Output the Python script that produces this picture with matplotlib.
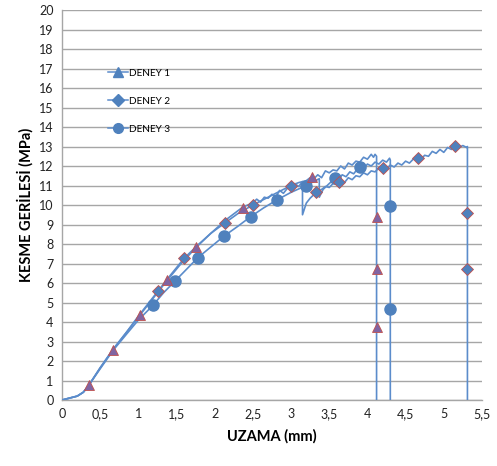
import matplotlib
matplotlib.use("Agg")
import matplotlib.pyplot as plt
from matplotlib.lines import Line2D

plt.rcParams['font.family'] = ['Lato', 'DejaVu Sans']

# DENEY 1 (upper curve, breaks at 4.12 mm)
d1_x = [0, 0.1, 0.2, 0.28, 0.35, 0.5, 0.67, 0.85, 1.02, 1.2, 1.37, 1.55, 1.75, 1.95, 2.15, 2.37,
        2.50, 2.55, 2.60, 2.65, 2.70, 2.75, 2.80, 2.85, 2.90, 2.95, 3.00, 3.05, 3.10, 3.15, 3.20,
        3.25, 3.30, 3.35, 3.40, 3.45, 3.50, 3.55, 3.60, 3.65, 3.70, 3.75, 3.80, 3.85, 3.90, 3.95,
        4.00, 4.05, 4.08, 4.10, 4.12, 4.12]
d1_y = [0, 0.1, 0.2, 0.4, 0.75, 1.65, 2.6, 3.5, 4.35, 5.25, 6.1, 6.95, 7.8, 8.55, 9.25, 9.9,
        10.10, 10.30, 10.15, 10.40, 10.35, 10.55, 10.40, 10.75, 10.60, 10.85, 10.90, 11.10, 10.95, 11.20, 11.25,
        11.40, 11.35, 11.55, 11.40, 11.75, 11.65, 11.80, 11.75, 12.00, 11.85, 12.15, 12.05, 12.25, 12.20, 12.45,
        12.35, 12.60, 12.45, 12.60, 12.50, 0]

# DENEY 2 (longest curve, breaks at 5.31 mm)
d2_x = [0, 0.1, 0.2, 0.28, 0.35, 0.5, 0.67, 0.85, 1.0, 1.13, 1.26, 1.43, 1.6, 1.78, 1.95, 2.13,
        2.3, 2.5, 2.75, 3.0, 3.1, 3.15, 3.15, 3.2, 3.25, 3.33, 3.40, 3.45, 3.50, 3.55, 3.60, 3.63,
        3.70, 3.75, 3.80, 3.85, 3.90, 3.95, 4.00, 4.05, 4.10, 4.15, 4.20, 4.25, 4.30, 4.35, 4.40,
        4.45, 4.50, 4.55, 4.60, 4.66, 4.70, 4.75, 4.80, 4.85, 4.90, 4.95, 5.00, 5.05, 5.10, 5.15,
        5.20, 5.25, 5.30, 5.31, 5.31]
d2_y = [0, 0.1, 0.2, 0.4, 0.75, 1.65, 2.6, 3.5, 4.3, 4.95, 5.6, 6.45, 7.27, 7.95, 8.55, 9.07,
        9.55, 10.0, 10.5, 11.0, 11.15, 11.2, 9.5, 10.1, 10.35, 10.65, 10.80, 10.95, 10.90, 11.10, 11.05, 11.20,
        11.15, 11.40, 11.30, 11.50, 11.45, 11.65, 11.55, 11.75, 11.70, 11.90, 11.90, 11.85, 12.05, 11.95, 12.15,
        12.05, 12.25, 12.15, 12.35, 12.40, 12.35, 12.55, 12.50, 12.75, 12.65, 12.85, 12.70, 12.95, 12.85, 13.05,
        12.95, 13.05, 12.95, 13.00, 0]

# DENEY 3 (middle curve, breaks at 4.30 mm)
d3_x = [0, 0.1, 0.2, 0.28, 0.35, 0.5, 0.67, 0.85, 1.0, 1.19, 1.33, 1.48, 1.63, 1.78, 1.95, 2.12,
        2.3, 2.47, 2.64, 2.81, 3.0, 3.2, 3.37, 3.37, 3.42, 3.50, 3.57, 3.62, 3.67, 3.72, 3.77, 3.82,
        3.87, 3.90, 3.95, 4.00, 4.05, 4.10, 4.15, 4.20, 4.25, 4.29, 4.30, 4.30]
d3_y = [0, 0.1, 0.2, 0.4, 0.75, 1.6, 2.55, 3.4, 4.1, 4.85, 5.5, 6.1, 6.7, 7.3, 7.85, 8.4,
        8.9, 9.4, 9.85, 10.25, 10.65, 11.0, 11.35, 10.4, 10.8, 11.1, 11.35, 11.30, 11.55, 11.45, 11.70, 11.60,
        11.85, 11.95, 11.85, 12.10, 12.00, 12.20, 12.10, 12.30, 12.20, 12.40, 12.30, 0]

# marker points
m1_x = [0.35, 0.67, 1.02, 1.37, 1.75, 2.37, 3.27, 4.12, 4.12, 4.12]
m1_y = [0.75, 2.55, 4.35, 6.15, 7.85, 9.85, 11.45, 9.4, 6.7, 3.75]
m2_x = [1.26, 1.6, 2.13, 2.5, 3.0, 3.33, 3.63, 4.2, 4.66, 5.15, 5.31, 5.31]
m2_y = [5.6, 7.27, 9.07, 10.0, 11.0, 10.65, 11.2, 11.9, 12.4, 13.05, 9.6, 6.7]
m3_x = [1.19, 1.48, 1.78, 2.12, 2.47, 2.81, 3.2, 3.57, 3.9, 4.3, 4.3]
m3_y = [4.85, 6.1, 7.3, 8.4, 9.4, 10.25, 11.0, 11.4, 11.95, 9.95, 4.65]

labels = ['DENEY 1', 'DENEY 2', 'DENEY 3']
yticks = list(range(0, 21))
xticks = [0, 0.5, 1, 1.5, 2, 2.5, 3, 3.5, 4, 4.5, 5, 5.5]

blue = '#4F81BD'
line_c = '#5B8CCB'
purple = '#8064A2'
red = '#C0504D'

fig = plt.figure(figsize=(4.97, 4.66), dpi=100)
ax = fig.add_axes([0.1247, 0.1416, 0.845, 0.8369])

ax.plot(d1_x, d1_y, color=line_c, lw=1.2, zorder=3)
ax.plot(d2_x, d2_y, color=line_c, lw=1.2, zorder=3)
ax.plot(d3_x, d3_y, color=line_c, lw=1.2, zorder=3)

ax.plot(m3_x, m3_y, ls='none', marker='o', ms=8, mfc=blue, mec=blue, zorder=4)
ax.plot(m2_x, m2_y, ls='none', marker='D', ms=6.5, mfc=blue, mec=red, mew=0.6, zorder=5)
ax.plot(m1_x, m1_y, ls='none', marker='^', ms=7.5, mfc=purple, mec=red, mew=0.6, zorder=6)

ax.set_xlim(0, 5.5)
ax.set_ylim(0, 20)
ax.set_xticks(xticks)
ax.set_xticklabels([('%g' % t).replace('.', ',') for t in xticks])
ax.set_yticks(yticks)
ax.tick_params(length=0, labelsize=9, colors='#222222', pad=6)
ax.grid(axis='y', color='#A6A6A6', lw=1)
ax.set_axisbelow(True)
for s in ['top', 'right']:
    ax.spines[s].set_visible(False)
for s in ['left', 'bottom']:
    ax.spines[s].set_color('#A6A6A6')
    ax.spines[s].set_linewidth(1)

ax.set_xlabel('UZAMA (mm)', fontsize=10.5, fontweight='bold', labelpad=6)
ax.set_ylabel('KESME GERİLESİ (MPa)', fontsize=10.5, fontweight='bold', labelpad=4)

handles = [Line2D([], [], color=line_c, lw=1.1, marker=m, ms=s, mfc=blue, mec=blue)
           for m, s in zip(['^', 'D', 'o'], [7, 6, 7])]
ax.legend(handles, labels, loc='upper left', bbox_to_anchor=(0.097, 0.862), frameon=False,
          fontsize=7.2, labelspacing=1.9, handlelength=2.0, handletextpad=0.1, borderpad=0)

fig.savefig('out.png', dpi=100)
